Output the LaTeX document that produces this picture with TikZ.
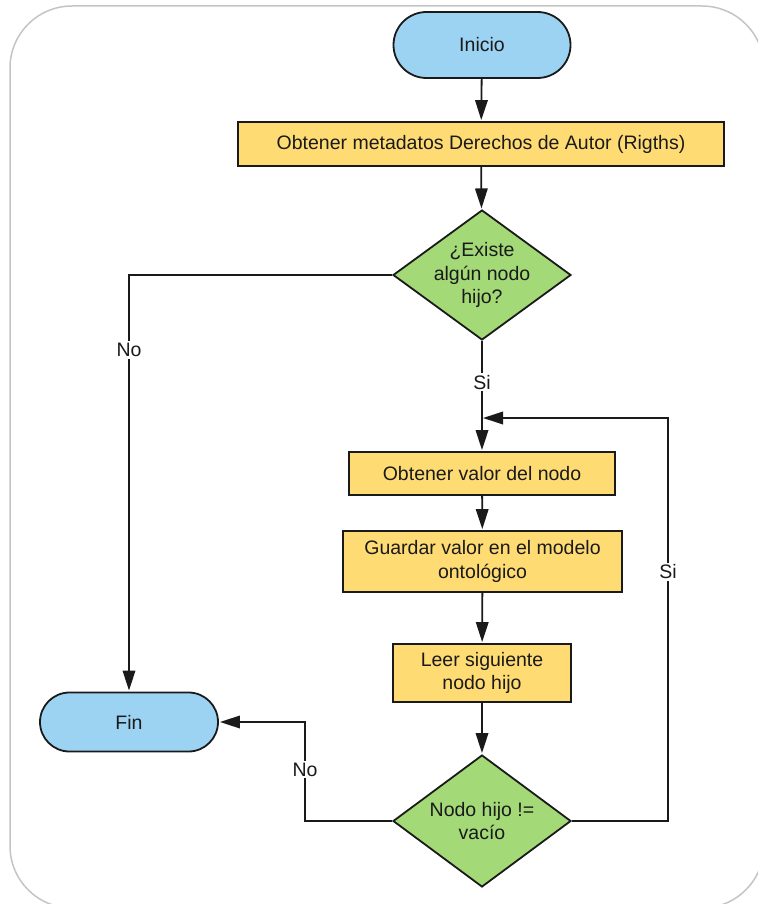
\documentclass[tikz,border=0pt]{standalone}
\usepackage{fontspec}
\setmainfont{Liberation Sans}
\usetikzlibrary{shapes.geometric,arrows.meta}
\definecolor{termblue}{HTML}{9DD3F2}
\definecolor{procyellow}{HTML}{FFDC73}
\definecolor{decgreen}{HTML}{A3D977}
\definecolor{framegray}{HTML}{C4C4C4}
\definecolor{inkdark}{HTML}{1A1A1A}
\tikzset{
  base/.style={draw=inkdark, line width=1.8pt, text=inkdark, align=center},
  terminal/.style={base, fill=termblue, rectangle},
  process/.style={base, fill=procyellow, rectangle, inner sep=0pt},
  decision/.style={base, fill=decgreen, diamond, aspect=1.37, inner sep=-3pt,
    minimum width=178pt, minimum height=130pt},
  flow/.style={draw=inkdark, line width=1.8pt,
    -{Triangle[length=20pt,width=12.5pt]}, shorten >=1pt},
  lbl/.style={fill=white, inner sep=2pt, text=inkdark},
  frame/.style={draw=framegray, line width=1.5pt, rounded corners=62pt}
}
\begin{document}
\begin{tikzpicture}[x=1pt, y=-1pt, font=\fontsize{19.5}{23.5}\selectfont]
\useasboundingbox (0,0) rectangle (758,904);
% outer card, partly cut by the page edge
\begin{scope}
  \clip (0,0) rectangle (758,904);
  \draw[frame] (10,6) rectangle (764,908);
\end{scope}

% nodes
\node[terminal, minimum width=177pt, minimum height=66pt, rounded corners=33pt]
  (inicio) at (482,45) {Inicio};
\node[process, minimum width=486pt, minimum height=44pt]
  (meta) at (481,144) {Obtener metadatos Derechos de Autor (Rigths)};
\node[decision] (q1) at (482,275) {¿Existe\\algún nodo\\hijo?};
\node[process, minimum width=266pt, minimum height=43pt]
  (valor) at (482,473.5) {Obtener valor del nodo};
\node[process, minimum width=279pt, minimum height=61pt]
  (guardar) at (482.5,561.5) {Guardar valor en el modelo\\ontológico};
\node[process, minimum width=178pt, minimum height=58pt]
  (leer) at (482,673) {Leer siguiente\\nodo hijo};
\node[decision, minimum height=132pt] (q2) at (482,821) {Nodo hijo !=\\vacío};
\node[terminal, minimum width=178pt, minimum height=59pt, rounded corners=29.5pt]
  (fin) at (129,722) {Fin};

% helper points for the loop and the exit
\coordinate (join) at (482,418);
\coordinate (loopc) at (668,418);
\coordinate (nocorner) at (305,722);

% connectors
\draw[flow] (inicio) -- (meta);
\draw[flow] (meta) -- (q1);
\draw[flow] (q1.west) -| node[lbl, pos=0.59] {No} (fin.north);
\draw[flow] (q1.south) -- node[lbl, pos=0.375] {Si} (valor.north);
\draw[flow] (valor) -- (guardar);
\draw[flow] (guardar) -- (leer);
\draw[flow] (leer) -- (q2);
\draw[flow] (q2.east) -| node[lbl, pos=0.809] {Si} (loopc) -- (join);
\draw[flow] (q2.west) -| node[lbl, pos=0.76] {No} (nocorner) -- (fin.east);
\end{tikzpicture}
\end{document}
